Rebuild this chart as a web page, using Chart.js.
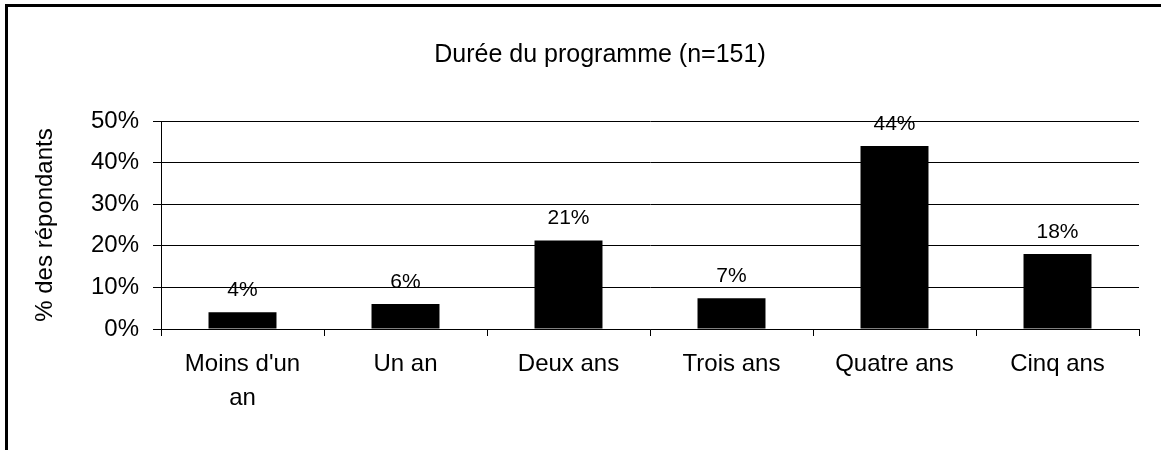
<!DOCTYPE html>
<html>
<head>
<meta charset="utf-8">
<script src="https://cdn.jsdelivr.net/npm/chart.js@4"></script>
<style>
  body { margin:0; background:#fff; }
  #wrap { position:relative; width:1161px; height:450px; overflow:hidden; }
  #cadre { position:absolute; left:5px; top:4px; width:1200px; height:500px;
           border-top:3px solid #000; border-left:3px solid #000; }
  canvas { position:absolute; left:0; top:0; }
</style>
</head>
<body>
<div id="wrap">
  <div id="cadre"></div>
  <canvas id="graf1" width="1161" height="450"></canvas>
</div>
<script>
document.addEventListener("DOMContentLoaded", () => {

  const categories = [["Moins d'un", "an"], "Un an", "Deux ans", "Trois ans", "Quatre ans", "Cinq ans"];
  const pourcentages = [4, 6, 21.3, 7.4, 44, 18];
  const yTicks = [0, 10, 20, 30, 40, 50];

  const police = "Arial, 'Liberation Sans', sans-serif";

  // etiquettes au-dessus des barres
  const etiquettes = {
    id: "etiquettes",
    afterDatasetsDraw(chart) {
      const ctx = chart.ctx;
      const meta = chart.getDatasetMeta(0);
      ctx.save();
      ctx.fillStyle = "#000";
      ctx.font = "21px " + police;
      ctx.textAlign = "center";
      ctx.textBaseline = "alphabetic";
      meta.data.forEach((bar, i) => {
        ctx.fillText(Math.round(pourcentages[i]) + "%", bar.x, bar.y - 16);
      });
      ctx.restore();
    }
  };

  new Chart(document.getElementById("graf1"), {
    type: "bar",
    data: {
      labels: categories,
      datasets: [{
        data: pourcentages,
        backgroundColor: "#000",
        borderWidth: 0,
        categoryPercentage: 1,
        barPercentage: 0.417
      }]
    },
    options: {
      responsive: false,
      animation: false,
      layout: { padding: { left: 61, right: 22, top: 0, bottom: 0 } },
      plugins: {
        legend: { display: false },
        tooltip: { enabled: false },
        title: {
          display: true,
          text: "Durée du programme (n=151)",
          color: "#000",
          font: { family: police, size: 25, weight: "normal", lineHeight: 1.2 },
          padding: { top: 40, bottom: 51 }
        }
      },
      scales: {
        x: {
          grid: { drawOnChartArea: false, drawTicks: true, tickLength: 7, color: "#000", lineWidth: 1 },
          border: { color: "#000", width: 1 },
          ticks: { color: "#000", font: { family: police, size: 24, lineHeight: 1.4 }, padding: 12, maxRotation: 0, autoSkip: false },
          afterFit: s => { s.height = 121; }
        },
        y: {
          min: 0,
          max: 50,
          afterBuildTicks: s => { s.ticks = yTicks.map(v => ({ value: v })); },
          grid: { color: "#000", lineWidth: 1, tickLength: 8 },
          border: { color: "#000", width: 1 },
          ticks: { color: "#000", font: { family: police, size: 24 }, padding: 14, callback: v => v + "%" },
          title: {
            display: true,
            text: "% des répondants",
            color: "#000",
            font: { family: police, size: 24, weight: "normal", lineHeight: 1.2 },
            padding: { top: -30, bottom: 0 }
          },
          afterFit: s => { s.width = 100; }
        }
      }
    },
    plugins: [etiquettes]
  });

});
</script>
</body>
</html>
